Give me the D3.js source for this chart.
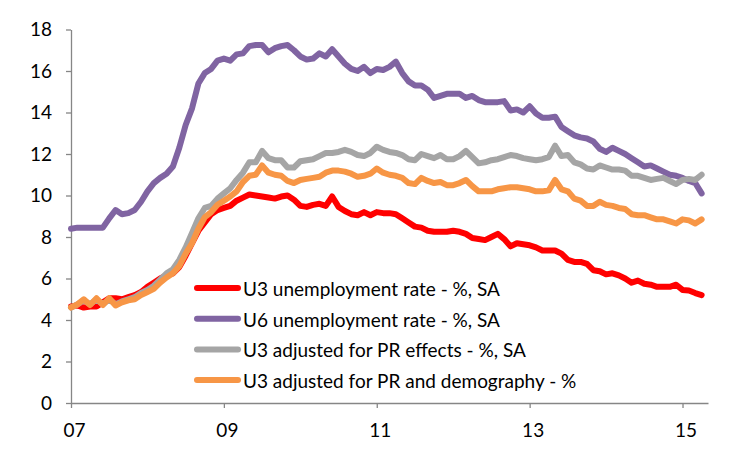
<!DOCTYPE html>
<html>
<head>
<meta charset="utf-8">
<script src="https://cdn.jsdelivr.net/npm/d3@7/dist/d3.min.js"></script>
<style>
  html, body { margin: 0; padding: 0; background: #fff; }
  svg { display: block; }
</style>
</head>
<body>
<svg id="chart" width="750" height="450"></svg>
<script>
// ---- Data (monthly, Jan 2007 onward; index = months since Jan 2007) ----
const seriesNames = [
  "U3 unemployment rate - %, SA",
  "U6 unemployment rate - %, SA",
  "U3 adjusted for PR effects - %, SA",
  "U3 adjusted for PR and demography - %"
];
const xTickMonths = [0, 24, 48, 72, 96];
const xTickLabels = ["07", "09", "11", "13", "15"];
const yTickValues = [0, 2, 4, 6, 8, 10, 12, 14, 16, 18];

const u3 = [4.65,4.7,4.6,4.65,4.65,4.85,5.05,5.05,5.0,5.1,5.2,5.35,5.6,5.8,6.0,6.15,6.25,6.55,7.1,7.7,
  8.3,8.7,9.1,9.3,9.4,9.5,9.75,9.9,10.05,10.0,9.95,9.9,9.85,9.95,10.0,9.8,9.5,9.45,9.55,9.6,
  9.5,9.95,9.45,9.25,9.1,9.05,9.2,9.05,9.2,9.15,9.15,9.1,8.9,8.7,8.5,8.45,8.3,8.25,8.25,8.25,
  8.3,8.25,8.15,7.95,7.9,7.85,8.0,8.15,7.9,7.55,7.7,7.65,7.6,7.5,7.35,7.35,7.35,7.2,6.9,6.8,
  6.8,6.7,6.4,6.35,6.2,6.25,6.15,6.0,5.8,5.9,5.75,5.7,5.6,5.6,5.6,5.7,5.45,5.42,5.3,5.2];
const u6 = [8.4,8.45,8.45,8.45,8.45,8.45,8.9,9.3,9.1,9.15,9.3,9.7,10.2,10.6,10.85,11.05,11.4,12.3,13.4,14.2,
  15.4,15.9,16.1,16.5,16.6,16.5,16.8,16.85,17.2,17.25,17.25,16.9,17.1,17.2,17.25,17.0,16.7,16.55,16.6,16.85,
  16.7,17.05,16.7,16.35,16.1,16.0,16.2,15.9,16.1,16.05,16.2,16.45,15.9,15.5,15.3,15.3,15.1,14.7,14.8,14.9,
  14.9,14.9,14.7,14.8,14.6,14.5,14.5,14.5,14.55,14.1,14.15,14.0,14.3,13.95,13.75,13.75,13.8,13.3,13.1,12.9,
  12.8,12.75,12.6,12.25,12.1,12.3,12.15,12.0,11.8,11.6,11.4,11.45,11.3,11.15,11.0,10.95,10.85,10.7,10.6,10.1];
const u3AdjPR = [4.6,4.75,4.95,4.75,5.0,4.75,5.0,4.75,4.9,5.0,5.1,5.3,5.45,5.65,5.95,6.25,6.45,6.9,7.5,8.2,
  8.9,9.4,9.5,9.85,10.1,10.35,10.75,11.1,11.6,11.6,12.15,11.8,11.7,11.7,11.35,11.35,11.65,11.7,11.75,11.9,
  12.05,12.05,12.1,12.2,12.1,11.95,11.9,12.05,12.35,12.2,12.1,12.05,11.95,11.75,11.7,12.0,11.9,11.8,11.95,11.75,
  11.75,11.9,12.15,11.85,11.55,11.6,11.7,11.75,11.85,11.95,11.9,11.8,11.75,11.7,11.75,11.85,12.4,11.9,11.95,11.6,
  11.5,11.3,11.25,11.45,11.35,11.25,11.25,11.2,10.95,10.95,10.85,10.75,10.8,10.85,10.7,10.55,10.75,10.8,10.75,11.0];
const u3AdjPRDemo = [4.6,4.75,5.0,4.72,5.05,4.72,5.05,4.7,4.85,4.95,5.0,5.2,5.35,5.5,5.8,6.05,6.25,6.6,7.2,7.7,
  8.4,8.95,9.2,9.55,9.75,9.95,10.2,10.65,10.95,11.0,11.45,11.1,11.0,10.95,10.7,10.6,10.75,10.8,10.85,10.9,
  11.1,11.2,11.2,11.15,11.05,10.9,10.95,11.05,11.3,11.1,11.0,10.95,10.85,10.6,10.55,10.85,10.7,10.6,10.65,10.5,
  10.5,10.6,10.75,10.45,10.2,10.2,10.2,10.3,10.35,10.4,10.4,10.35,10.3,10.2,10.2,10.25,10.75,10.3,10.2,9.85,
  9.75,9.5,9.5,9.7,9.55,9.5,9.4,9.35,9.1,9.05,9.05,8.95,8.85,8.85,8.75,8.65,8.85,8.8,8.65,8.85];

const seriesColors = ["#FF0000", "#8064A2", "#A5A5A5", "#F79646"];
const seriesValues = [u3, u6, u3AdjPR, u3AdjPRDemo];

// ---- Drawing ----
const svg = d3.select("#chart");
const FONT = "Lato, 'Open Sans', sans-serif";

const x = d3.scaleLinear().domain([0, 100]).range([71, 708]);
const y = d3.scaleLinear().domain([0, 18]).range([403, 29.5]);

const axisColor = "#868686";

// Y axis
const yAxis = svg.append("g")
  .attr("transform", `translate(${x(0)},0)`)
  .call(d3.axisLeft(y).tickValues(yTickValues).tickFormat(d3.format("d"))
        .tickSize(5).tickSizeOuter(0).tickPadding(14));
yAxis.select(".domain").attr("stroke", axisColor).attr("stroke-width", 1.3);
yAxis.selectAll(".tick line").attr("stroke", axisColor).attr("stroke-width", 1.3);
yAxis.selectAll(".tick text").attr("fill", "#000").style("font-family", FONT).style("font-size", "19px");

// X axis
const xAxis = svg.append("g")
  .attr("transform", `translate(0,${y(0)})`)
  .call(d3.axisBottom(x).tickValues(xTickMonths).tickFormat((d, i) => xTickLabels[i])
        .tickSize(5).tickSizeOuter(0).tickPadding(16));
xAxis.select(".domain").attr("stroke", axisColor).attr("stroke-width", 1.3);
xAxis.selectAll(".tick line").attr("stroke", axisColor).attr("stroke-width", 1.3);
xAxis.selectAll(".tick text").attr("fill", "#000").attr("dx", 3)
  .style("font-family", FONT).style("font-size", "19px");

// Lines
const line = d3.line().x((d, i) => x(i)).y(d => y(d));
seriesValues.forEach((vals, k) => {
  svg.append("path")
    .datum(vals)
    .attr("d", line)
    .attr("fill", "none")
    .attr("stroke", seriesColors[k])
    .attr("stroke-width", 6)
    .attr("stroke-linejoin", "round")
    .attr("stroke-linecap", "round");
});

// Legend
const legend = svg.append("g");
seriesNames.forEach((name, k) => {
  const cy = 288 + k * 30.7;
  legend.append("line")
    .attr("x1", 197).attr("x2", 238)
    .attr("y1", cy).attr("y2", cy)
    .attr("stroke", seriesColors[k])
    .attr("stroke-width", 6)
    .attr("stroke-linecap", "round");
  legend.append("text")
    .attr("x", 243).attr("y", cy + 8)
    .attr("fill", "#000")
    .style("font-family", FONT).style("font-size", "19px")
    .text(name);
});
</script>
</body>
</html>
